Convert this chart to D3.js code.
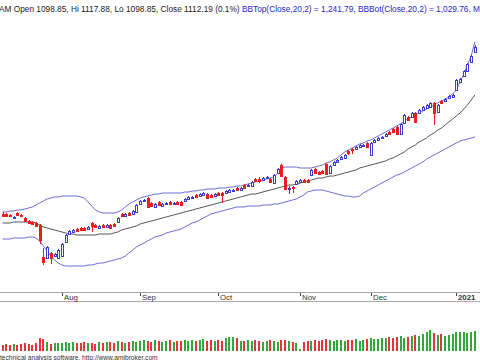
<!DOCTYPE html>
<html><head><meta charset="utf-8">
<script src="https://cdn.jsdelivr.net/npm/d3@7/dist/d3.min.js"></script>
<style>html,body{margin:0;padding:0;background:#fff;}svg{display:block;}</style>
</head><body>
<svg id="c" width="480" height="360"></svg>
<script>
const opens = [695,695,692.5,685,697.5,692.5,685,677.5,675,672.5,
667.5,587.5,585,597.5,590,585,590,625,645,650,
657.5,660,660,657.5,672.5,667.5,660,667.5,662.5,667.5,
670,675,695,690,697.5,695,700,720,727.5,735,
722.5,712.5,725,715,720,725,720,725,725,727.5,
732.5,735,742.5,740,742.5,745,742.5,740,747.5,747.5,
747.5,750,752.5,760,755,767.5,765,765,782.5,782.5,
780,785,782.5,772.5,797.5,817.5,787.5,757.5,762.5,770,
775,780,780,792.5,807.5,800,802.5,820,797.5,817.5,
825,832.5,835,852.5,857.5,857.5,862.5,865,872.5,842.5,
875,880,885,890,900,907.5,912.5,895,922.5,937.5,
937.5,947.5,947.5,955,960,962.5,972.5,950,977.5,977.5,
985,987.5,1005,1025,1040,1052.5,1075,1098.85];
const highs = [700,697.5,695,690,700,695,687.5,680,677.5,675,
670,610,615,600,597.5,607.5,622.5,645,655,657.5,
660,662.5,662.5,665,675,670,667.5,670,670,670,
672.5,687.5,697.5,697.5,700,705,720,730,732.5,737.5,
725,722.5,727.5,722.5,725,727.5,725,727.5,727.5,735,
740,740,745,747.5,750,747.5,745,747.5,750,750,
755,757.5,757.5,762.5,762.5,770,770,777.5,785,787.5,
787.5,790,785,795,810,820,790,765,765,780,
782.5,782.5,782.5,807.5,810,802.5,805,822.5,817.5,827.5,
832.5,840,845,855,860,865,870,870,875,875,
882.5,887.5,890,897.5,902.5,910,915,922.5,945,940,
950,950,957.5,965,970,975,975,970,980,985,
992.5,995,1032.5,1035,1055,1072.5,1092.5,1117.88];
const lows = [687.5,687.5,687.5,682.5,690,687.5,675,670,667.5,662.5,
620,567.5,582.5,570,587.5,582.5,587.5,622.5,642.5,647.5,
650,652.5,652.5,655,650,660,657.5,660,660,657.5,
662.5,672.5,687.5,687.5,690,692.5,697.5,717.5,725,710,
712.5,710,715,712.5,717.5,717.5,717.5,717.5,715,725,
730,732.5,735,737.5,740,732.5,735,737.5,740,722.5,
745,747.5,750,752.5,752.5,757.5,762.5,762.5,775,772.5,
777.5,782.5,772.5,770,795,787.5,755,745,747.5,767.5,
772.5,772.5,772.5,790,795,792.5,795,792.5,795,815,
822.5,830,832.5,842.5,845,855,860,862.5,860,840,
872.5,877.5,882.5,887.5,892.5,897.5,892.5,892.5,920,927.5,
935,922.5,945,952.5,957.5,960,917.5,947.5,970,975,
982.5,985,1002.5,1022.5,1037.5,1050,1072.5,1098.85];
const closes = [690,690,690,687.5,692.5,690,677.5,672.5,670,665,
630,575,612.5,585,595,605,620,642.5,652.5,655,
652.5,655,655,662.5,665,662.5,665,662.5,667.5,660,
665,685,690,695,692.5,702.5,717.5,727.5,730,712.5,
715,720,717.5,720,722.5,720,722.5,720,717.5,732.5,
737.5,737.5,737.5,745,747.5,735,737.5,745,742.5,742.5,
752.5,755,755,755,760,760,767.5,775,777.5,777.5,
785,787.5,775,792.5,807.5,790,757.5,760,760,777.5,
780,775,775,805,797.5,795,797.5,795,815,825,
830,837.5,842.5,847.5,855,862.5,867.5,867.5,862.5,872.5,
880,885,887.5,895,895,900,895,920,942.5,930,
947.5,925,955,962.5,967.5,972.5,947.5,967.5,972.5,982.5,
990,992.5,1030,1032.5,1052.5,1070,1090,1112.19];
const volumes = [6,7,6,7,6,7,8,7,6,8,
13,12,9,7,8,8,8,9,8,9,
8,8,9,8,8,7,9,8,9,9,
8,10,9,8,9,10,9,10,11,10,
9,11,10,9,10,11,9,10,10,11,
10,11,10,11,12,10,11,10,11,10,
13,14,14,13,10,10,11,10,11,10,
9,10,11,10,9,11,11,10,9,8,
2,9,10,10,11,10,11,12,11,10,
11,11,10,11,11,12,10,11,12,13,
12,12,13,13,14,13,14,15,13,14,
15,16,15,17,19,21,18,16,17,15,
16,17,19,19,19,18,19,20];
const bbTop = [700,700,702.5,702.5,705,705,707.5,710,712.5,717.5,
722.5,727.5,732.5,735,737.5,737.5,740,740,740,740,
740,737.5,735,725,715,705,700,697.5,697.5,697.5,
697.5,700,705,712.5,720,725,730,735,737.5,740,
742.5,745,745,747.5,747.5,747.5,747.5,747.5,747.5,750,
750,752.5,752.5,755,755,757.5,757.5,757.5,760,760,
760,762.5,762.5,765,765,767.5,770,772.5,775,777.5,
780,782.5,785,787.5,797.5,810,812.5,812.5,812.5,812.5,
810,810,810,810,812.5,815,817.5,822.5,825,830,
835,842.5,850,855,860,865,870,872.5,877.5,880,
885,890,895,900,905,910,915,920,927.5,932.5,
937.5,942.5,947.5,952.5,957.5,962.5,967.5,972.5,977.5,982.5,
987.5,995,1005,1025,1045,1067.5,1090,1125];
const bbMid = [672.5,672.5,672.5,675,675,675,675,675,675,672.5,
667.5,662.5,660,657.5,655,652.5,650,647.5,645,645,
642.5,642.5,642.5,642.5,642.5,642.5,645,645,645,645,
647.5,650,655,657.5,660,662.5,665,670,672.5,675,
677.5,680,682.5,685,687.5,690,692.5,695,697.5,700,
702.5,705,707.5,710,712.5,715,717.5,720,722.5,725,
727.5,730,732.5,735,737.5,740,742.5,745,745,747.5,
750,752.5,755,757.5,760,762.5,765,767.5,767.5,770,
772.5,775,777.5,780,782.5,785,785,787.5,790,790,
792.5,795,797.5,800,802.5,805,810,812.5,815,817.5,
820,822.5,825,827.5,832.5,835,840,845,850,857.5,
862.5,867.5,875,880,885,892.5,897.5,905,910,917.5,
925,932.5,940,947.5,957.5,967.5,980,992.5];
const bbBot = [632.5,632.5,632.5,635,635,635,635,637.5,637.5,635,
627.5,615,602.5,590,580,572.5,567.5,565,565,565,
565,565,565,567.5,567.5,570,572.5,572.5,575,577.5,
580,582.5,585,590,597.5,605,612.5,617.5,622.5,627.5,
632.5,637.5,640,642.5,647.5,650,652.5,655,657.5,662.5,
667.5,672.5,675,680,685,690,695,697.5,700,702.5,
705,707.5,710,712.5,712.5,712.5,715,715,715,715,
717.5,717.5,717.5,720,720,722.5,725,727.5,730,732.5,
737.5,742.5,750,752.5,755,755,755,752.5,750,747.5,
745,742.5,740,740,737.5,737.5,740,747.5,752.5,757.5,
762.5,767.5,772.5,777.5,782.5,787.5,792.5,795,800,805,
810,815,820,825,832.5,837.5,842.5,847.5,852.5,857.5,
862.5,867.5,872.5,877.5,880,882.5,885,887.5];
const monthLabels = ["Aug","Sep","Oct","Nov","Dec","2021"];
const monthStart = [16,37,58,80,99,122];
const titleBlack = "AM Open 1098.85, Hi 1117.88, Lo 1098.85, Close 1112.19 (0.1%)";
const titleBlue = " BBTop(Close,20,2) = 1,241.79, BBBot(Close,20,2) = 1,029.76, M";
const footer = "technical analysis software, http://www.amibroker.com";

const svg = d3.select("#c");
svg.append("rect").attr("width",480).attr("height",360).attr("fill","#fff");
const n = closes.length;
const x = d3.scaleLinear().domain([0, n-1]).range([2.5, 474.9]);
const y = d3.scaleLinear().domain([500, 1192.5]).range([292, 15]);
const yv = d3.scaleLinear().domain([0, 30]).range([351, 321]);
const idx = d3.range(n);
const RED = "#ee1c1c", BLUE = "#3c3cd2", BAND = "#6b6bd6", VGREEN = "#33a83a", VRED = "#e8323c";
const cx = i => Math.round(x(i)) + 0.5;

// bands
const line = arr => d3.line().x(i => x(i)).y(i => y(arr[i]))(idx);
svg.append("path").attr("d", line(bbTop)).attr("fill","none").attr("stroke",BAND).attr("stroke-width",1);
svg.append("path").attr("d", line(bbBot)).attr("fill","none").attr("stroke",BAND).attr("stroke-width",1);
svg.append("path").attr("d", line(bbMid)).attr("fill","none").attr("stroke","#555").attr("stroke-width",1);

// candles
const g = svg.append("g");
idx.forEach(i => {
  const up = closes[i] >= opens[i];
  const col = up ? BLUE : RED;
  g.append("line").attr("x1",cx(i)).attr("x2",cx(i))
    .attr("y1", y(highs[i])).attr("y2", y(lows[i])).attr("stroke", col).attr("stroke-width",1);
  const top = y(Math.max(opens[i], closes[i])), bot = y(Math.min(opens[i], closes[i]));
  if (up) {
    g.append("rect").attr("x", cx(i)-1).attr("y", Math.round(top)+0.5)
      .attr("width",2).attr("height", Math.max(1, Math.round(bot-top)))
      .attr("fill","#fff").attr("stroke",BLUE).attr("stroke-width",1);
  } else {
    g.append("rect").attr("x", cx(i)-1.5).attr("y", Math.round(top))
      .attr("width",3).attr("height", Math.max(1, Math.round(bot-top)+1))
      .attr("fill",RED);
  }
});

// axis strip
svg.append("line").attr("x1",0).attr("x2",480).attr("y1",292.5).attr("y2",292.5).attr("stroke","#a8a8a8");
svg.append("line").attr("x1",0).attr("x2",480).attr("y1",301.5).attr("y2",301.5).attr("stroke","#a8a8a8");
monthStart.forEach((s, k) => {
  svg.append("line").attr("x1",cx(s)).attr("x2",cx(s)).attr("y1",293).attr("y2",296).attr("stroke","#444");
  svg.append("text").attr("x", cx(s)+1.5).attr("y",299.5)
    .attr("font-family","Liberation Sans, Arial, sans-serif").attr("font-size","7.8px")
    .attr("font-weight", k === monthLabels.length-1 ? "bold" : "normal")
    .attr("fill","#333").text(monthLabels[k]);
});

// volume
idx.forEach(i => {
  const up = closes[i] >= opens[i];
  svg.append("rect").attr("x", Math.round(x(i))-1).attr("y", yv(volumes[i]))
    .attr("width",2).attr("height", yv(0)-yv(volumes[i])).attr("fill", up ? VGREEN : VRED);
});

// title
const t = svg.append("text").attr("x",-1).attr("y",12)
  .attr("font-family","Liberation Sans, Arial, sans-serif").attr("font-size","8.3px");
t.append("tspan").attr("fill","#222").text(titleBlack);
t.append("tspan").attr("fill","#2424c8").text(titleBlue);

svg.append("text").attr("x",0).attr("y",359.5)
  .attr("font-family","Liberation Sans, Arial, sans-serif").attr("font-size","6.6px")
  .attr("fill","#333").text(footer);
</script>
</body></html>
